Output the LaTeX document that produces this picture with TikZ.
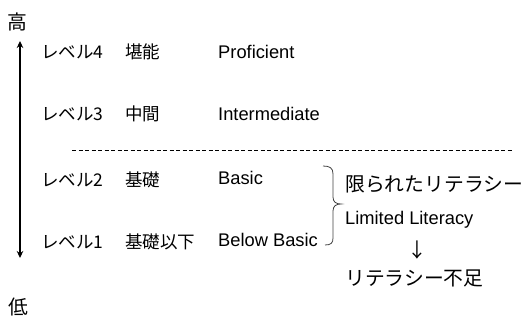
\documentclass[tikz,border=0pt]{standalone}
\usepackage{fontspec}
\setmainfont{Liberation Sans}
\newfontfamily\jp{Noto Sans CJK JP}
\usetikzlibrary{arrows.meta}
\begin{document}
\begin{tikzpicture}[x=1pt,y=-1pt,
  lbl/.style={anchor=west,inner sep=0pt,font=\jp\fontsize{17.5}{20}\selectfont},
  en/.style={anchor=west,inner sep=0pt,font=\fontsize{18.3}{20}\selectfont},
  big/.style={anchor=west,inner sep=0pt,font=\jp\fontsize{19.8}{22}\selectfont},
  axis/.style={line width=1.8pt,{Stealth[length=7pt,width=6.5pt]}-{Stealth[length=7pt,width=6.5pt]}}]
\useasboundingbox (0,0) rectangle (525,320);
\node[big,anchor=center] (hi) at (17,22) {高};
\node[big,anchor=center] (lo) at (18,307) {低};
\coordinate (atop) at (20,41);
\coordinate (abot) at (20,258);
\draw[axis] (atop) -- (abot);

\node[lbl] (l4) at (41,52) {レベル4};
\node[lbl] (j4) at (125,52) {堪能};
\node[en] (e4) at (218,52) {Proficient};
\node[lbl] (l3) at (41,114) {レベル3};
\node[lbl] (j3) at (125,114) {中間};
\node[en] (e3) at (218,114) {Intermediate};
\node[lbl] (l2) at (41,180) {レベル2};
\node[lbl] (j2) at (125,180) {基礎};
\node[en] (e2) at (218,178) {Basic};
\node[lbl] (l1) at (41,242) {レベル1};
\node[lbl] (j1) at (125,242) {基礎以下};
\node[en] (e1) at (218,240) {Below Basic};

\coordinate (d1) at (72,150);
\coordinate (d2) at (513,150);
\draw[line width=0.8pt,dash pattern=on 4pt off 2.5pt] (d1) -- (d2);

\draw[line width=0.8pt,black!75] (323,166) .. controls (330,166) and (333,168) .. (333,174) -- (333,197)
  .. controls (333,202) and (336,204) .. (341,204)
  .. controls (336,204) and (333,206) .. (333,211) -- (333,238)
  .. controls (333,243) and (331,245) .. (325,245);

\node[big] (lim) at (345,184) {限られたリテラシー};
\node[en] (limen) at (345,220) {Limited Literacy};
\node[big,anchor=center] (arr) at (417,250) {↓};
\node[big] (lack) at (345,278) {リテラシー不足};
\end{tikzpicture}
\end{document}
